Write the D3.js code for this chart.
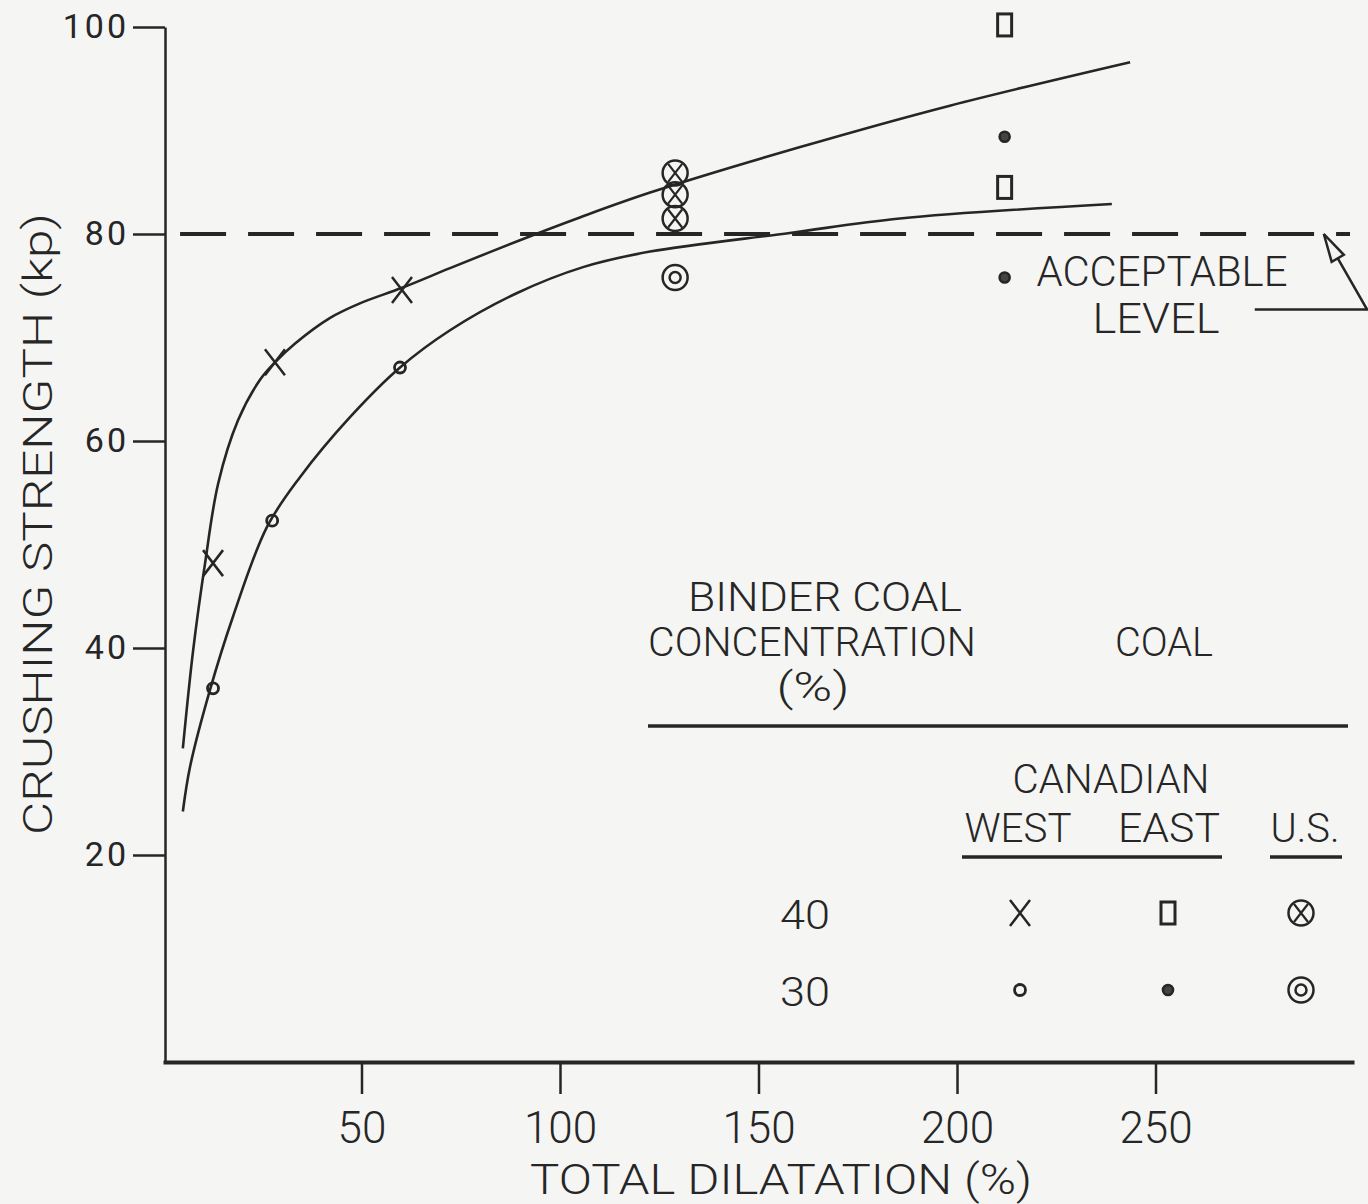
<!DOCTYPE html>
<html>
<head>
<meta charset="utf-8">
<script src="https://cdn.jsdelivr.net/npm/d3@7"></script>
<style>
    body { margin: 0; background: #f5f5f3; }
    svg { display: block; }
    text { font-family: Roboto, "DejaVu Sans", sans-serif; font-weight: 300; fill: #262626; }
</style>
</head>
<body>
<div id="chart"></div>
<script>
//Datos (dilatación %, resistencia kp)
const westForty = [[12.6, 48.2], [28.2, 67.6], [60.2, 74.6]];
const westThirty = [[12.6, 36.1], [27.5, 52.3], [59.7, 67.1]];
const eastForty = [[212, 100.2], [212, 84.5]];
const eastThirty = [[212, 89.4], [212, 75.8]];
const usForty = [[129, 85.9], [129, 83.8], [129, 81.5]];
const usThirty = [[129, 75.8]];

//Curvas trazadas a mano
const upperCurve = [[5.0, 30.3], [7.6, 39.8], [10.6, 48.2], [13.9, 55.9], [18.9, 62.0], [24.4, 65.9],
    [28.2, 67.6], [33.2, 69.4], [42.1, 71.9], [49.6, 73.3], [60.2, 74.8],
    [72.3, 76.7], [89.9, 79.4], [105.0, 81.6], [122.7, 84.0], [160.5, 88.4], [198.2, 92.4], [243.6, 96.6]];
const lowerCurve = [[5.0, 24.2], [6.8, 28.5], [11.8, 35.9], [17.6, 43.0], [26.2, 51.7], [34.5, 56.5],
    [47.1, 62.3], [59.7, 67.1], [72.3, 70.7], [89.2, 74.3], [105.8, 76.8], [122.7, 78.3],
    [157.9, 80.1], [185.6, 81.5], [239.0, 82.9]];

//Nivel aceptable y flecha de la anotación
const acceptableLevel = 80;
const acceptableRange = [4.3, 299];
const arrowPath = [[292.4, 80], [303.3, 72.7], [275.0, 72.7]];

//Ejes
const xTicks = [50, 100, 150, 200, 250];
const yTicks = [20, 40, 60, 80, 100];

//Leyenda
const legendCols = ['WEST', 'EAST', 'U.S.'];
const legendRows = ['40', '30'];
const legendMarkers = [['x', 'rect', 'circx'], ['o', 'dot', 'ring']];

const INK = '#262626';

let svg = d3.select('#chart')
    .append('svg')
        .attr('width', 1368)
        .attr('height', 1204);

let x = d3.scaleLinear()
    .domain([0, 300])
    .range([163, 1354]);

let y = d3.scaleLinear()
    .domain([0, 100])
    .range([1062, 27]);

//Eje Y
let yAxis = svg.append('g')
    .attr('transform', 'translate(165,0)')
    .call(d3.axisLeft(y).tickValues(yTicks).tickSize(32).tickSizeOuter(0).tickPadding(4));
yAxis.select('.domain').attr('stroke', INK).attr('stroke-width', 2.5);
yAxis.selectAll('.tick line').attr('stroke', INK).attr('stroke-width', 2.5);
yAxis.selectAll('.tick text')
    .attr('font-size', 34)
    .attr('letter-spacing', 3)
    .style('font-weight', 400)
    .attr('font-family', 'Roboto, sans-serif')
    .attr('fill', INK);

//Eje X
let xAxis = svg.append('g')
    .attr('transform', 'translate(0,1062)')
    .call(d3.axisBottom(x).tickValues(xTicks).tickSize(32).tickSizeOuter(0).tickPadding(18));
xAxis.select('.domain').attr('stroke', INK).attr('stroke-width', 4);
xAxis.selectAll('.tick line').attr('stroke', INK).attr('stroke-width', 2.5);
xAxis.selectAll('.tick text')
    .attr('font-size', 44)
    .attr('font-family', 'Roboto, sans-serif')
    .attr('fill', INK);

//Títulos de los ejes
svg.append('text')
    .attr('transform', 'translate(52,524) rotate(-90)')
    .attr('text-anchor', 'middle')
    .attr('font-size', 40)
    .attr('textLength', 622)
    .attr('lengthAdjust', 'spacingAndGlyphs')
    .text('CRUSHING STRENGTH (kp)');

svg.append('text')
    .attr('x', 781)
    .attr('y', 1194)
    .attr('text-anchor', 'middle')
    .attr('font-size', 42)
    .attr('textLength', 502)
    .attr('lengthAdjust', 'spacingAndGlyphs')
    .text('TOTAL DILATATION (%)');

//Línea de nivel aceptable
svg.append('line')
    .attr('x1', x(acceptableRange[0]))
    .attr('x2', x(acceptableRange[1]))
    .attr('y1', y(acceptableLevel))
    .attr('y2', y(acceptableLevel))
    .attr('stroke', INK)
    .attr('stroke-width', 4)
    .attr('stroke-dasharray', '46,22');

//Flecha
svg.append('path')
    .attr('d', d3.line().x(function(d) { return x(d[0]); }).y(function(d) { return y(d[1]); })(arrowPath))
    .attr('fill', 'none')
    .attr('stroke', INK)
    .attr('stroke-width', 2.5);

let tip = [x(arrowPath[0][0]), y(arrowPath[0][1])],
    elbow = [x(arrowPath[1][0]), y(arrowPath[1][1])];
let dx = elbow[0] - tip[0], dy = elbow[1] - tip[1], len = Math.sqrt(dx * dx + dy * dy);
let ux = dx / len, uy = dy / len;
svg.append('path')
    .attr('d', 'M' + tip[0] + ',' + tip[1] +
        'L' + (tip[0] + ux * 28 - uy * 7) + ',' + (tip[1] + uy * 28 + ux * 7) +
        'L' + (tip[0] + ux * 28 + uy * 7) + ',' + (tip[1] + uy * 28 - ux * 7) + 'Z')
    .attr('fill', '#f5f5f3')
    .attr('stroke', INK)
    .attr('stroke-width', 2.5);

svg.append('text')
    .attr('x', 1162).attr('y', 286)
    .attr('text-anchor', 'middle')
    .attr('font-size', 42)
    .attr('textLength', 251)
    .attr('lengthAdjust', 'spacingAndGlyphs')
    .text('ACCEPTABLE');

svg.append('text')
    .attr('x', 1156).attr('y', 333)
    .attr('text-anchor', 'middle')
    .attr('font-size', 42)
    .attr('textLength', 127)
    .attr('lengthAdjust', 'spacingAndGlyphs')
    .text('LEVEL');

//Curvas
let line = d3.line()
    .x(function(d) { return x(d[0]); })
    .y(function(d) { return y(d[1]); })
    .curve(d3.curveCatmullRom.alpha(0.5));

[upperCurve, lowerCurve].forEach(function(c) {
    svg.append('path')
        .attr('d', line(c))
        .attr('fill', 'none')
        .attr('stroke', INK)
        .attr('stroke-width', 2.6);
});

//Marcadores
function drawMarker(g, type, cx, cy) {
    if (type == 'x') {
        g.append('path')
            .attr('d', 'M' + (cx - 10) + ',' + (cy - 13) + 'L' + (cx + 10) + ',' + (cy + 13) +
                'M' + (cx + 10) + ',' + (cy - 13) + 'L' + (cx - 10) + ',' + (cy + 13))
            .attr('stroke', INK).attr('stroke-width', 2.5).attr('fill', 'none');
    } else if (type == 'o') {
        g.append('circle').attr('cx', cx).attr('cy', cy).attr('r', 5.5)
            .attr('fill', 'none').attr('stroke', INK).attr('stroke-width', 2.8);
    } else if (type == 'dot') {
        g.append('circle').attr('cx', cx).attr('cy', cy).attr('r', 5)
            .attr('fill', '#444').attr('stroke', INK).attr('stroke-width', 2.6);
    } else if (type == 'rect') {
        g.append('rect').attr('x', cx - 7).attr('y', cy - 11).attr('width', 14).attr('height', 22)
            .attr('fill', 'none').attr('stroke', INK).attr('stroke-width', 3);
    } else if (type == 'circx') {
        g.append('circle').attr('cx', cx).attr('cy', cy).attr('r', 12.5)
            .attr('fill', 'none').attr('stroke', INK).attr('stroke-width', 2.5);
        g.append('path')
            .attr('d', 'M' + (cx - 7) + ',' + (cy - 9) + 'L' + (cx + 7) + ',' + (cy + 9) +
                'M' + (cx + 7) + ',' + (cy - 9) + 'L' + (cx - 7) + ',' + (cy + 9))
            .attr('stroke', INK).attr('stroke-width', 2.2).attr('fill', 'none');
    } else if (type == 'ring') {
        g.append('circle').attr('cx', cx).attr('cy', cy).attr('r', 12.5)
            .attr('fill', 'none').attr('stroke', INK).attr('stroke-width', 2.5);
        g.append('circle').attr('cx', cx).attr('cy', cy).attr('r', 5.5)
            .attr('fill', 'none').attr('stroke', INK).attr('stroke-width', 2.5);
    }
}

let series = [
    { data: westForty, marker: 'x' },
    { data: westThirty, marker: 'o' },
    { data: eastForty, marker: 'rect' },
    { data: eastThirty, marker: 'dot' },
    { data: usForty, marker: 'circx' },
    { data: usThirty, marker: 'ring' }
];

let points = svg.append('g');
series.forEach(function(s) {
    s.data.forEach(function(d) {
        drawMarker(points, s.marker, x(d[0]), y(d[1]));
    });
});

//Leyenda
let legend = svg.append('g');

function legendText(tx, ty, str, len) {
    legend.append('text')
        .attr('x', tx).attr('y', ty)
        .attr('text-anchor', 'middle')
        .attr('font-size', 40)
        .attr('textLength', len)
        .attr('lengthAdjust', 'spacingAndGlyphs')
        .text(str);
}

legendText(825, 611, 'BINDER COAL', 274);
legendText(812, 656, 'CONCENTRATION', 328);
legendText(813, 701, '(%)', 73);
legendText(1164, 656, 'COAL', 98);
legendText(1111, 793, 'CANADIAN', 197);

legend.append('line')
    .attr('x1', 648).attr('x2', 1348).attr('y1', 726).attr('y2', 726)
    .attr('stroke', INK).attr('stroke-width', 3.5);

let colX = [1018, 1169, 1305],
    colLen = [107, 102, 69];
legendCols.forEach(function(c, i) {
    legendText(colX[i], 842, c, colLen[i]);
});

legend.append('line')
    .attr('x1', 962).attr('x2', 1222).attr('y1', 857).attr('y2', 857)
    .attr('stroke', INK).attr('stroke-width', 3.5);
legend.append('line')
    .attr('x1', 1270).attr('x2', 1342).attr('y1', 857).attr('y2', 857)
    .attr('stroke', INK).attr('stroke-width', 3.5);

let rowY = [913, 990],
    symX = [1020, 1168, 1301];
legendRows.forEach(function(r, i) {
    legendText(805, rowY[i] + 16, r, 50);
    legendMarkers[i].forEach(function(m, j) {
        drawMarker(legend, m, symX[j], rowY[i]);
    });
});
</script>
</body>
</html>
